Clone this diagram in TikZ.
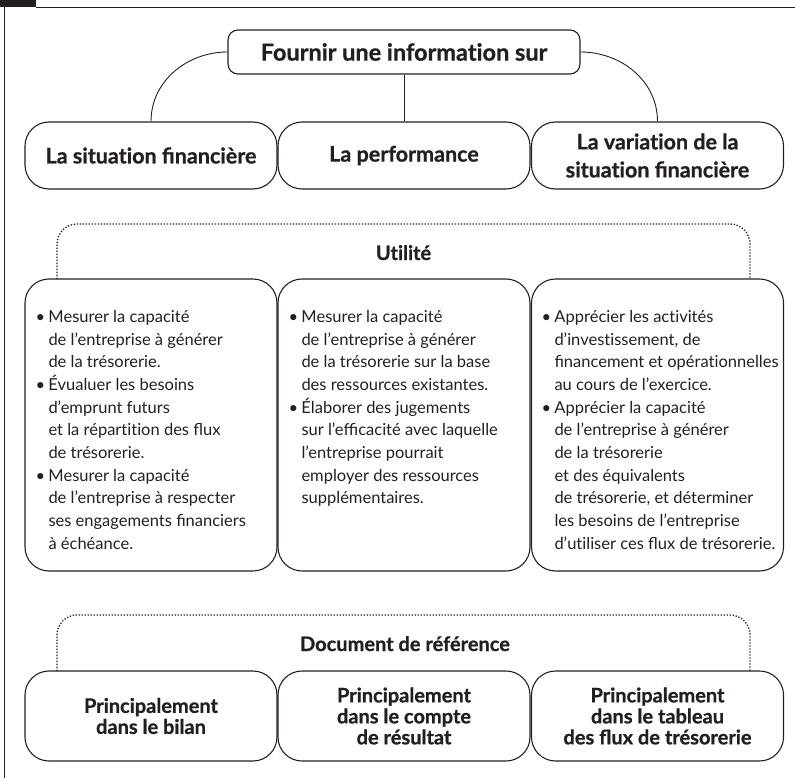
\documentclass[tikz,border=0pt]{standalone}
\usepackage{fontspec}
\setmainfont{Lato}[BoldFeatures={FakeBold=0.8}]
\definecolor{ink}{HTML}{231F20}
\newcommand{\bul}{\makebox[13pt][l]{•}}
\newcommand{\ind}{\hspace*{13pt}}
\newcommand{\nk}{\kern0pt }
\begin{document}
\begin{tikzpicture}[x=1pt,y=-1pt, line width=1pt, color=ink,
  box/.style={draw, rounded corners=24pt, inner sep=0pt, minimum width=252pt, line width=1.1pt},
  titlebox/.style={box, minimum height=67pt, align=center, font=\bfseries\fontsize{21.5}{28}\selectfont},
  utilbox/.style={box, minimum height=292pt},
  docbox/.style={box, minimum height=90pt, align=center, font=\bfseries\fontsize{20}{21}\selectfont},
  bodytext/.style={anchor=north west, inner sep=0pt, align=left, font=\fontsize{16.5}{22.7}\selectfont},
  headtext/.style={inner sep=0pt, anchor=base, font=\bfseries\fontsize{20}{22}\selectfont},
  dotline/.style={line width=1.3pt, dash pattern=on 1.3pt off 1.7pt, rounded corners=20pt},
  link/.style={line width=0.9pt}]
\useasboundingbox (0,0) rectangle (795,778);
% frame
\fill[ink] (0,0) rectangle (36,7.5);
\draw[line width=1.2pt] (36,7.5) -- (795,7.5);
\draw[line width=1.3pt] (4.5,7) -- (4.5,778);
% top
\node[box, rounded corners=10pt, minimum width=352pt, minimum height=44pt, font=\bfseries\fontsize{23.5}{26}\selectfont] (top) at (404,52) {Fournir une informat\nk ion sur};
\node[titlebox] (sf) at (151,155.5) {La situat\nk ion financière};
\node[titlebox] (perf) at (404,155.5) {La performance};
\node[titlebox] (var) at (657.5,155.5) {La variat\nk ion de la\\situat\nk ion financière};
\draw[link] (top.west) to[out=180,in=90] (sf.north);
\draw[link] (top.south) -- (perf.north);
\draw[link] (top.east) to[out=0,in=90] (var.north);
% utilite
\node[headtext] (util) at (403.5,260) {Ut\nk ilité};
\node[utilbox] (u1) at (151,425) {};
\node[utilbox] (u2) at (404,425) {};
\node[utilbox] (u3) at (657.5,425) {};
\coordinate (ul1) at (57,279);
\coordinate (ur1) at (750,279);
\coordinate (uh) at (403.5,224);
\draw[dotline] (ul1) |- (uh) -| (ur1);
\node[bodytext] (t1) at (35,306) {\strut\bul Mesurer la capacité\\
\ind de l’entreprise à générer\\
\ind de la trésorerie.\\
\bul Évualuer les besoins\\
\ind d’emprunt futurs\\
\ind et la répart\nk it\nk ion des flux\\
\ind de trésorerie.\\
\bul Mesurer la capacité\\
\ind de l’entreprise à respecter\\
\ind ses engagements financiers\\
\ind à échéance.};
\node[bodytext] (t2) at (288,306) {\strut\bul Mesurer la capacité\\
\ind de l’entreprise à générer\\
\ind de la trésorerie sur la base\\
\ind des ressources existantes.\\
\bul Élaborer des jugements\\
\ind sur l’efficacité avec laquelle\\
\ind l’entreprise pourrait\\
\ind employer des ressources\\
\ind supplémentaires.};
\node[bodytext] (t3) at (541,306) {\strut\bul Apprécier les act\nk ivités\\
\ind d’invest\nk issement, de\\
\ind financement et opérat\nk ionnelles\\
\ind au cours de l’exercice.\\
\bul Apprécier la capacité\\
\ind de l’entreprise à générer\\
\ind de la trésorerie\\
\ind et des équivalents\\
\ind de trésorerie, et déterminer\\
\ind les besoins de l’entreprise\\
\ind d’ut\nk iliser ces flux de trésorerie.};
% document
\node[headtext] (doc) at (405,651) {Document de référence};
\node[docbox] (d1) at (151,716) {Principalement\\dans le bilan};
\node[docbox] (d2) at (404,716) {Principalement\\dans le compte\\de résultat};
\node[docbox] (d3) at (657.5,716) {Principalement\\dans le tableau\\des flux de trésorerie};
\coordinate (dl) at (57,671);
\coordinate (dr) at (750,671);
\coordinate (dh) at (403.5,615);
\draw[dotline] (dl) |- (dh) -| (dr);
\end{tikzpicture}
\end{document}
